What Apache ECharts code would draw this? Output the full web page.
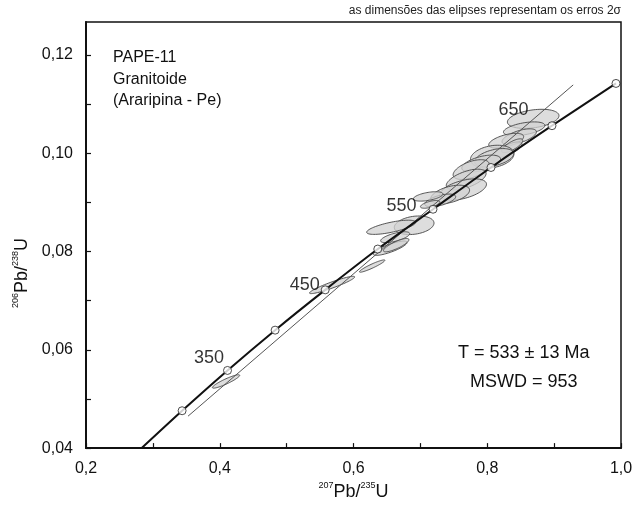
<!DOCTYPE html>
<html>
<head>
<meta charset="utf-8">
<script src="https://cdn.jsdelivr.net/npm/echarts@6/dist/echarts.min.js"></script>
<style>html,body{margin:0;padding:0;background:#fff}#c{width:644px;height:506px}</style>
</head>
<body>
<div id="c"></div>
<script>
// ---- data ----
// concordia reference points (age in Ma, 207Pb/235U, 206Pb/238U)
const concordiaAge = [250, 300, 350, 400, 450, 500, 550, 600, 650, 700];
const concordiaX = [0.2792, 0.3437, 0.4116, 0.4828, 0.5577, 0.6363, 0.7189, 0.8056, 0.8968, 0.9925];
const concordiaY = [0.0395, 0.0476, 0.0558, 0.0640, 0.0722, 0.0805, 0.0886, 0.0971, 0.1056, 0.1142];
const labelledAges = [350, 450, 550, 650];

// discordia (regression) line end points
const discordiaX = [0.3526, 0.9285];
const discordiaY = [0.0465, 0.1139];

// error ellipses: centre, half extent in x and y (2 sigma), correlation
const ellX   = [0.8687, 0.8552, 0.8478, 0.8283, 0.8313, 0.8373, 0.8074, 0.8104, 0.7909, 0.7760, 0.7685, 0.7640, 0.7445, 0.7296, 0.7116, 0.7146, 0.6907, 0.6563, 0.6623, 0.6548, 0.6638, 0.6279, 0.5680, 0.4094];
const ellY   = [0.10699, 0.10497, 0.10335, 0.10254, 0.10072, 0.10153, 0.09930, 0.09910, 0.09789, 0.09667, 0.09465, 0.09262, 0.09161, 0.09040, 0.09121, 0.08959, 0.08534, 0.08493, 0.08291, 0.08068, 0.08129, 0.07704, 0.07319, 0.05356];
const ellSX  = [0.03857, 0.03098, 0.02576, 0.02612, 0.02058, 0.01583, 0.03254, 0.02917, 0.02902, 0.02702, 0.02980, 0.03486, 0.02907, 0.02320, 0.02213, 0.01450, 0.02968, 0.03662, 0.02174, 0.02539, 0.01910, 0.01903, 0.03378, 0.02040];
const ellSY  = [0.001947, 0.001405, 0.001613, 0.001505, 0.001577, 0.001402, 0.002325, 0.001851, 0.001724, 0.002011, 0.002105, 0.002162, 0.001883, 0.001288, 0.000956, 0.000787, 0.001890, 0.001445, 0.001109, 0.001460, 0.001359, 0.001253, 0.001757, 0.001363];
const ellRho = [0.331, 0.482, 0.617, 0.555, 0.715, 0.756, 0.248, 0.442, 0.531, 0.532, 0.585, 0.497, 0.465, 0.585, 0.512, 0.604, 0.237, 0.698, 0.656, 0.809, 0.821, 0.934, 0.930, 0.912];

// axis ticks
const xMin = 0.2, xMax = 1.0, xStep = 0.1;
const yMin = 0.04, yMax = 0.1267, yStep = 0.01;

const sampleName = ['PAPE-11', 'Granitoide', '(Araripina - Pe)'];
const resultText = ['T = 533 \u00b1 13 Ma', 'MSWD = 953'];
const noteText = 'as dimens\u00f5es das elipses representam os erros 2\u03c3';

// ---- chart ----
const FONT = 'Liberation Sans, Arial, sans-serif';
const chart = echarts.init(document.getElementById('c'), null, {renderer: 'canvas'});

const ellipseData = ellX.map((x, i) => [x, ellY[i], ellSX[i], ellSY[i], ellRho[i]]);
const concordiaLine = concordiaX.map((x, i) => [x, concordiaY[i]]);
const markerData = concordiaAge.map((a, i) => ({value: [concordiaX[i], concordiaY[i]], age: a}))
  .filter(d => d.age >= 300);

const labelOffsets = {350: [6, -12], 450: [4, -5], 550: [-7, -3], 650: [-14, -16]};
markerData.forEach(d => {
  if (labelledAges.indexOf(d.age) >= 0) {
    d.label = {show: true, position: 'left', formatter: String(d.age), offset: labelOffsets[d.age],
      fontSize: 18, fontFamily: FONT, color: '#000'};
  }
});

function fmt(v, digits) { return v.toFixed(digits).replace('.', ','); }

const nameRich = {
  b: {fontSize: 18, fontFamily: FONT, color: '#111', lineHeight: 22},
  s: {fontSize: 9, fontFamily: FONT, color: '#111', verticalAlign: 'top', lineHeight: 22}
};

const option = {
  backgroundColor: '#fff',
  animation: false,
  grid: {left: 86, right: 23, top: 22, bottom: 56, show: true, borderColor: '#111', borderWidth: 1.5, backgroundColor: 'transparent'},
  xAxis: {
    type: 'value', min: xMin, max: xMax, interval: xStep,
    name: '{s|207}{b|Pb/}{s|235}{b|U}', nameLocation: 'middle', nameGap: 31,
    nameTextStyle: {rich: nameRich},
    axisLine: {lineStyle: {color: '#111', width: 2}},
    axisTick: {inside: true, length: 5, lineStyle: {color: '#111', width: 1.2}},
    axisLabel: {
      fontSize: 16, fontFamily: FONT, color: '#111', margin: 12,
      formatter: v => { const k = Math.round(v * 10); return (Math.abs(v * 10 - k) < 1e-6 && k % 2 === 0) ? fmt(v, 1) : ''; }
    },
    splitLine: {show: false}
  },
  yAxis: {
    type: 'value', min: yMin, max: yMax, interval: yStep,
    name: '{s|206}{b|Pb/}{s|238}{b|U}', nameLocation: 'middle', nameGap: 46, nameRotate: 90,
    nameTextStyle: {rich: nameRich, padding: [0, 76, 0, 0]},
    axisLine: {lineStyle: {color: '#111', width: 2}},
    axisTick: {inside: true, length: 5, lineStyle: {color: '#111', width: 1.2}},
    axisLabel: {
      fontSize: 16, fontFamily: FONT, color: '#111', margin: 13, showMaxLabel: false,
      formatter: v => { const k = Math.round(v * 100); return (Math.abs(v * 100 - k) < 1e-6 && k % 2 === 0) ? fmt(v, 2) : ''; }
    },
    splitLine: {show: false}
  },
  series: [
    {
      type: 'custom', name: 'ellipses', z: 2,
      data: ellipseData,
      renderItem: function (params, api) {
        const cx = api.value(0), cy = api.value(1), sx = api.value(2), sy = api.value(3), r = api.value(4);
        const q = Math.sqrt(1 - r * r);
        const pts = [];
        for (let k = 0; k < 72; k++) {
          const t = k / 72 * Math.PI * 2;
          const x = cx + sx * Math.cos(t);
          const y = cy + sy * (r * Math.cos(t) + q * Math.sin(t));
          pts.push(api.coord([x, y]));
        }
        return {type: 'polygon', shape: {points: pts},
          style: {fill: 'rgba(210,210,210,0.75)', stroke: '#444', lineWidth: 0.9}};
      },
      clip: true
    },
    {
      type: 'line', name: 'discordia', z: 3, data: discordiaX.map((x, i) => [x, discordiaY[i]]),
      symbol: 'none', lineStyle: {color: '#555', width: 1}
    },
    {
      type: 'line', name: 'concordia', z: 4, data: concordiaLine, smooth: 0.3,
      symbol: 'none', lineStyle: {color: '#111', width: 2}, clip: true
    },
    {
      type: 'scatter', name: 'ages', z: 5, data: markerData,
      symbol: 'circle', symbolSize: 8,
      itemStyle: {color: '#fff', borderColor: '#222', borderWidth: 1}
    }
  ],
  graphic: [
    {type: 'text', right: 23, top: 5, style: {text: noteText, fontSize: 12, fontFamily: FONT, fill: '#222', textAlign: 'right'}},
    {type: 'text', left: 113, top: 47, style: {text: sampleName.join('\n'), fontSize: 16, lineHeight: 21.5, fontFamily: FONT, fill: '#111'}},
    {type: 'text', left: 458, top: 344, style: {text: resultText[0], fontSize: 18, fontFamily: FONT, fill: '#111'}},
    {type: 'text', left: 470, top: 373, style: {text: resultText[1], fontSize: 18, fontFamily: FONT, fill: '#111'}}
  ]
};
chart.setOption(option);
</script>
</body>
</html>
